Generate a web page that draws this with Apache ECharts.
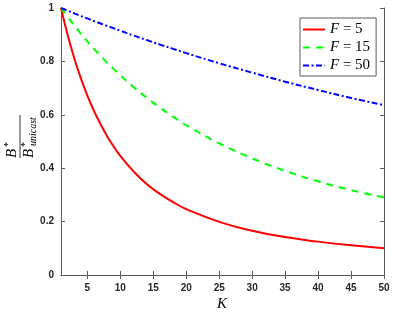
<!DOCTYPE html>
<html>
<head>
<meta charset="utf-8">
<script src="https://cdn.jsdelivr.net/npm/echarts@6/dist/echarts.min.js"></script>
<style>html,body{margin:0;padding:0;background:#fff;}#c{width:403px;height:313px;}</style>
</head>
<body>
<div id="c"></div>
<script>
// K values (x) at which the curves were read
var kValues = [1,2,3,4,5,6,7,8,9,10,12,14,16,18,20,25,30,35,40,45,50];
// ratio B*/B*_unicast
var seriesF5  = [1,0.900,0.813,0.738,0.672,0.615,0.565,0.520,0.481,0.446,0.388,0.341,0.304,0.273,0.247,0.199,0.166,0.142,0.125,0.111,0.100];
var seriesF15 = [1,0.967,0.935,0.904,0.875,0.847,0.821,0.795,0.771,0.748,0.704,0.664,0.627,0.593,0.561,0.493,0.437,0.390,0.351,0.318,0.290];
var seriesF50 = [1,0.990,0.980,0.970,0.961,0.951,0.942,0.933,0.924,0.915,0.897,0.880,0.863,0.847,0.831,0.793,0.758,0.724,0.693,0.663,0.636];
var fValues = [5,15,50];
var xTicks = [5,10,15,20,25,30,35,40,45,50];
var yTicks = [0,0.2,0.4,0.6,0.8,1];

function pairs(ys){ return kValues.map(function(k,i){ return [k, ys[i]]; }); }

var axisColor = '#5a5a5a';
var textColor = '#262626';
var labelFont = {color: textColor, fontFamily: 'Liberation Sans, Arial, sans-serif', fontSize: 10, fontWeight: 'bold'};

var chart = echarts.init(document.getElementById('c'), null, {renderer: 'canvas'});
var option = {
  animation: false,
  backgroundColor: '#fff',
  grid: {left: 61, right: 19, top: 8, bottom: 38},
  xAxis: [{
    type: 'value', min: 1, max: 50, position: 'bottom',
    axisLine: {show: true, lineStyle: {color: axisColor, width: 1}},
    axisTick: {show: true, inside: true, length: 4, customValues: xTicks, lineStyle: {color: axisColor}},
    axisLabel: Object.assign({show: true, margin: 8, customValues: xTicks}, labelFont),
    splitLine: {show: false}
  },{
    type: 'value', min: 1, max: 50, position: 'top',
    axisLine: {show: true, lineStyle: {color: axisColor, width: 1}},
    axisTick: {show: true, inside: true, length: 4, customValues: xTicks, lineStyle: {color: axisColor}},
    axisLabel: {show: false},
    splitLine: {show: false}
  }],
  yAxis: [{
    type: 'value', min: 0, max: 1, interval: 0.2, position: 'left',
    axisLine: {show: true, lineStyle: {color: axisColor, width: 1}},
    axisTick: {show: true, inside: true, length: 4, lineStyle: {color: axisColor}},
    axisLabel: Object.assign({show: true, margin: 7, customValues: yTicks}, labelFont),
    splitLine: {show: false}
  },{
    type: 'value', min: 0, max: 1, interval: 0.2, position: 'right',
    axisLine: {show: true, lineStyle: {color: axisColor, width: 1}},
    axisTick: {show: true, inside: true, length: 4, lineStyle: {color: axisColor}},
    axisLabel: {show: false},
    splitLine: {show: false}
  }],
  legend: {
    orient: 'vertical', left: 300, top: 18,
    padding: [4, 6, 3, 2],
    itemWidth: 22, itemHeight: 14, itemGap: 3,
    borderColor: axisColor, borderWidth: 1, backgroundColor: '#fff',
    itemStyle: {opacity: 0, borderWidth: 0},
    data: fValues.map(function(f){ return 'F = ' + f; }),
    formatter: function(name){ return '{f|F}{n|' + name.slice(1) + '}'; },
    textStyle: {
      lineHeight: 14,
      rich: {
        f: {fontFamily: 'Liberation Serif, serif', fontStyle: 'italic', fontSize: 15, color: '#000'},
        n: {fontFamily: 'Liberation Serif, serif', fontSize: 15, color: '#000'}
      }
    }
  },
  series: [
    {name: 'F = ' + fValues[0], type: 'line', data: pairs(seriesF5), smooth: true, symbol: 'none',
     lineStyle: {color: '#ff0000', width: 2, type: 'solid'}, itemStyle: {color: '#ff0000'}},
    {name: 'F = ' + fValues[1], type: 'line', data: pairs(seriesF15), smooth: true, symbol: 'none',
     lineStyle: {color: '#00ff00', width: 2, type: [7, 6]}, itemStyle: {color: '#00ff00'}},
    {name: 'F = ' + fValues[2], type: 'line', data: pairs(seriesF50), smooth: true, symbol: 'none',
     lineStyle: {color: '#0000ff', width: 2, type: [6, 2.5, 2, 2.5]}, itemStyle: {color: '#0000ff'}}
  ],
  graphic: [
    // x-axis title
    {type: 'text', x: 222, y: 304, style: {text: 'K', fontFamily: 'Liberation Serif, serif', fontStyle: 'italic', fontSize: 15, fill: '#000', textAlign: 'center', textVerticalAlign: 'middle'}},
    // y-axis title: fraction B* / B*_unicast (rotated)
    {type: 'line', shape: {x1: 20, y1: 115, x2: 20, y2: 158}, style: {stroke: '#000', lineWidth: 0.8}},
    {type: 'text', x: 12, y: 158, rotation: Math.PI/2, style: {text: 'B', fontFamily: 'Liberation Serif, serif', fontStyle: 'italic', fontSize: 15, fill: '#000', textAlign: 'left', textVerticalAlign: 'middle'}},
    {type: 'text', x: 8, y: 147, rotation: Math.PI/2, style: {text: '*', fontFamily: 'Liberation Serif, serif', fontSize: 10, fill: '#000', textAlign: 'left', textVerticalAlign: 'middle'}},
    {type: 'text', x: 29, y: 158, rotation: Math.PI/2, style: {text: 'B', fontFamily: 'Liberation Serif, serif', fontStyle: 'italic', fontSize: 15, fill: '#000', textAlign: 'left', textVerticalAlign: 'middle'}},
    {type: 'text', x: 25, y: 147, rotation: Math.PI/2, style: {text: '*', fontFamily: 'Liberation Serif, serif', fontSize: 10, fill: '#000', textAlign: 'left', textVerticalAlign: 'middle'}},
    {type: 'text', x: 33, y: 146, rotation: Math.PI/2, style: {text: 'unicast', fontFamily: 'Liberation Serif, serif', fontStyle: 'italic', fontSize: 10, fill: '#000', textAlign: 'left', textVerticalAlign: 'middle'}}
  ]
};
chart.setOption(option);
</script>
</body>
</html>
